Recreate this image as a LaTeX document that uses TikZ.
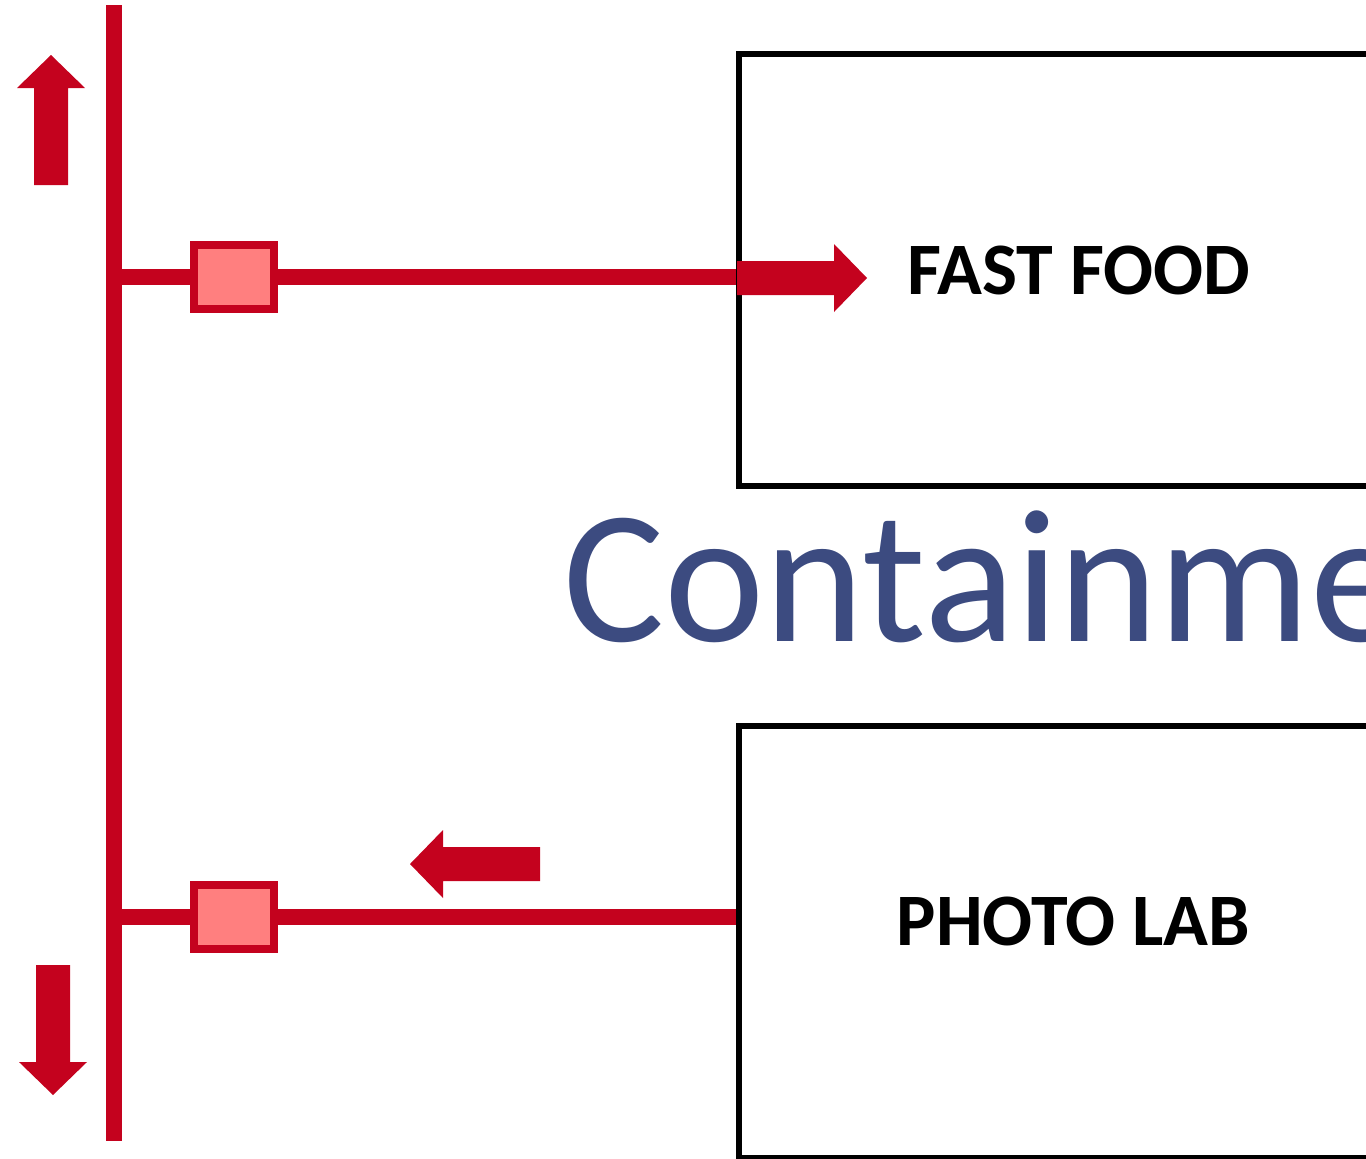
\documentclass[tikz,border=0pt]{standalone}
\usepackage{fontspec}
\setmainfont{Carlito}
\definecolor{lockred}{RGB}{196,2,30}
\definecolor{lockpink}{RGB}{255,127,127}
\definecolor{titleblue}{RGB}{60,75,128}
\begin{document}
\begin{tikzpicture}[x=0.5pt,y=-0.5pt,
  redline/.style={line width=8pt,color=lockred},
  valve/.style={draw=lockred,fill=lockpink,line width=4pt,minimum width=40pt,minimum height=32pt,inner sep=0pt},
  shopbox/.style={draw=black,line width=3pt,minimum width=340pt,minimum height=216pt,inner sep=0pt},
  shoplabel/.style={font=\bfseries\fontsize{37pt}{40pt}\selectfont,inner sep=0pt}]
\clip (0,0) rectangle (1366,1158);

\coordinate (top) at (114,5);
\coordinate (bot) at (114,1141);
\coordinate (j1) at (114,277);
\coordinate (j2) at (114,917);

\node[shopbox] (ffbox) at (1079,270) {};
\node[shopbox] (plbox) at (1079,942) {};
\node[valve] (sqA) at (234,277) {};
\node[valve] (sqB) at (234,917) {};

\draw[redline] (top)--(bot);
\draw[redline] (j1)--(sqA);
\draw[redline] (sqA)--(sqA -| ffbox.west);
\draw[redline] (j2)--(sqB);
\draw[redline] (sqB)--(sqB -| plbox.west);

\def\pfeil#1#2{%
\fill[lockred,shift={#1},rotate=#2] (0,-17) -- (97,-17) -- (97,-34)
	-- (130,0) -- (97,34) -- (97,17) -- (0,17) -- cycle;
}

\pfeil{(51,185)}{90};
\pfeil{(53,965)}{-90};
\pfeil{(737,278)}{0};
\pfeil{(540,864)}{180};

\node[shoplabel] (fastfood) at (1079,270.5) {FAST FOOD};
\node[shoplabel] (photolab) at (1073.5,921.5) {PHOTO LAB};

\node[anchor=base west,text=titleblue,inner sep=0pt,
	font=\fontsize{95pt}{110pt}\selectfont] (title) at (563,641) {Containme};

\end{tikzpicture}
\end{document}
